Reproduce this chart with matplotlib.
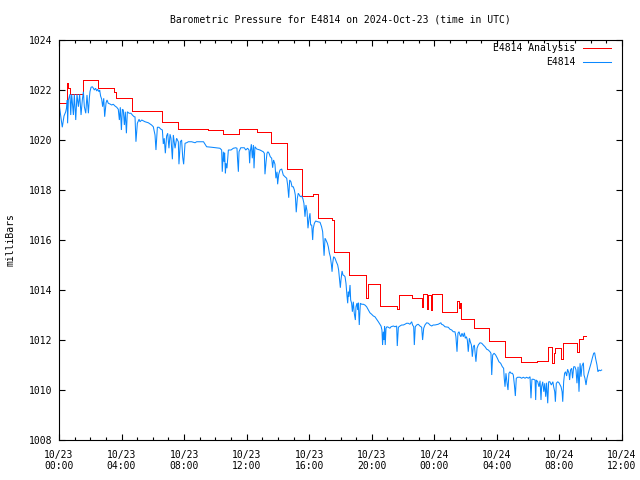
import matplotlib
matplotlib.use("Agg")
import matplotlib.pyplot as plt
from matplotlib.ticker import MultipleLocator, FixedLocator
import numpy as np

# ---- data (time in hours since 2024-10-23 00:00 UTC, pressure in mbar) ----
obs_hours = [
    0.00, 0.21, 0.32, 0.43, 0.49, 0.53, 0.55, 0.60, 0.70, 0.75, 0.81, 0.92, 0.98, 1.07, 1.15, 1.24,
    1.32, 1.41, 1.49, 1.56, 1.62, 1.71, 1.79, 1.88, 1.94, 1.98, 2.05, 2.13, 2.20, 2.26, 2.34, 2.41,
    2.47, 2.56, 2.60, 2.66, 2.73, 2.79, 2.86, 2.92, 3.01, 3.07, 3.15, 3.26, 3.37, 3.47, 3.58, 3.69,
    3.79, 3.86, 3.92, 3.99, 4.05, 4.11, 4.18, 4.24, 4.31, 4.37, 4.48, 4.60, 4.69, 4.80, 4.86, 4.92,
    5.01, 5.12, 5.18, 5.29, 5.50, 5.71, 5.92, 6.03, 6.14, 6.20, 6.29, 6.39, 6.52, 6.61, 6.67, 6.73,
    6.80, 6.88, 6.95, 7.03, 7.10, 7.16, 7.25, 7.31, 7.42, 7.52, 7.63, 7.67, 7.76, 7.84, 7.91, 7.97,
    8.06, 8.16, 8.27, 8.48, 8.70, 8.80, 9.24, 9.44, 9.76, 10.29, 10.40, 10.44, 10.51, 10.55, 10.59,
    10.64, 10.68, 10.74, 10.83, 11.00, 11.15, 11.30, 11.38, 11.42, 11.47, 11.51, 11.62, 11.85, 11.94,
    12.06, 12.15, 12.19, 12.23, 12.30, 12.36, 12.43, 12.47, 12.53, 12.64, 12.85, 13.06, 13.13, 13.17,
    13.24, 13.30, 13.36, 13.43, 13.51, 13.60, 13.66, 13.72, 13.81, 13.87, 13.94, 13.98, 14.05, 14.13,
    14.24, 14.34, 14.45, 14.56, 14.62, 14.69, 14.75, 14.83, 14.90, 14.98, 15.05, 15.11, 15.17, 15.24,
    15.30, 15.37, 15.43, 15.52, 15.60, 15.66, 15.73, 15.79, 15.86, 15.92, 15.99, 16.05, 16.09, 16.16,
    16.22, 16.26, 16.33, 16.41, 16.54, 16.69, 16.79, 16.86, 16.90, 16.95, 17.01, 17.07, 17.16, 17.22,
    17.29, 17.35, 17.42, 17.46, 17.50, 17.56, 17.65, 17.73, 17.82, 17.88, 17.95, 17.99, 18.03, 18.10,
    18.16, 18.24, 18.29, 18.35, 18.41, 18.46, 18.50, 18.54, 18.61, 18.65, 18.71, 18.76, 18.82, 18.88,
    18.95, 18.99, 19.05, 19.10, 19.14, 19.20, 19.27, 19.35, 19.46, 19.56, 19.67, 19.78, 19.88, 19.99,
    20.10, 20.20, 20.31, 20.42, 20.52, 20.59, 20.65, 20.69, 20.74, 20.78, 20.82, 20.86, 20.91, 20.97,
    21.06, 21.16, 21.23, 21.38, 21.48, 21.59, 21.63, 21.70, 21.80, 21.91, 22.02, 22.12, 22.23, 22.33,
    22.44, 22.55, 22.61, 22.68, 22.72, 22.78, 22.87, 22.97, 23.08, 23.19, 23.25, 23.32, 23.40, 23.51,
    23.62, 23.72, 23.83, 23.93, 24.04, 24.25, 24.42, 24.46, 24.57, 24.68, 24.89, 25.00, 25.11, 25.21,
    25.32, 25.38, 25.45, 25.51, 25.58, 25.64, 25.70, 25.77, 25.85, 25.92, 25.98, 26.05, 26.11, 26.17,
    26.24, 26.30, 26.37, 26.43, 26.49, 26.56, 26.66, 26.73, 26.81, 26.92, 27.03, 27.13, 27.24, 27.35,
    27.45, 27.56, 27.62, 27.67, 27.73, 27.82, 27.92, 28.03, 28.13, 28.24, 28.35, 28.43, 28.47, 28.52,
    28.58, 28.64, 28.71, 28.77, 28.84, 28.90, 28.99, 29.05, 29.12, 29.18, 29.24, 29.33, 29.48, 29.58,
    29.69, 29.80, 29.90, 30.01, 30.12, 30.18, 30.24, 30.33, 30.44, 30.48, 30.52, 30.61, 30.69, 30.76,
    30.82, 30.86, 30.93, 31.00, 31.06, 31.12, 31.18, 31.25, 31.31, 31.39, 31.48, 31.58, 31.63, 31.70,
    31.74, 31.80, 31.89, 31.97, 32.04, 32.10, 32.17, 32.21, 32.27, 32.33, 32.39, 32.46, 32.52, 32.61,
    32.65, 32.71, 32.78, 32.84, 32.91, 32.99, 33.06, 33.12, 33.19, 33.25, 33.32, 33.38, 33.44, 33.53,
    33.57, 33.63, 33.70, 33.76, 33.84, 33.93, 34.02, 34.10, 34.19, 34.25, 34.31, 34.40, 34.46, 34.53,
    34.61, 34.70,
]
obs_mbar = [
    1021.47, 1020.51, 1020.96, 1021.13, 1021.31, 1021.60, 1020.67, 1021.60, 1021.83, 1021.00, 1021.83,
    1021.00, 1021.83, 1020.80, 1021.83, 1021.33, 1021.83, 1021.00, 1021.60, 1021.93, 1021.33, 1021.07,
    1021.80, 1021.07, 1021.67, 1021.93, 1022.11, 1022.13, 1022.07, 1022.00, 1022.07, 1021.96, 1022.03,
    1021.93, 1022.00, 1021.76, 1021.63, 1021.33, 1021.67, 1020.93, 1021.49, 1021.60, 1021.47, 1021.44,
    1021.40, 1021.43, 1021.36, 1021.31, 1021.23, 1020.80, 1021.31, 1020.40, 1021.23, 1021.20, 1020.60,
    1021.13, 1020.27, 1021.13, 1021.07, 1021.07, 1021.00, 1020.93, 1020.93, 1019.93, 1020.67, 1020.83,
    1020.73, 1020.80, 1020.73, 1020.69, 1020.60, 1020.53, 1020.20, 1019.60, 1020.51, 1020.51, 1020.43,
    1020.40, 1019.84, 1020.07, 1019.47, 1020.16, 1020.27, 1019.67, 1020.23, 1020.07, 1019.23, 1020.20,
    1019.67, 1020.07, 1019.93, 1019.03, 1019.93, 1020.00, 1019.31, 1019.03, 1019.87, 1019.89, 1019.93,
    1019.93, 1019.89, 1019.93, 1019.93, 1019.73, 1019.71, 1019.67, 1019.60, 1018.73, 1019.53, 1019.13,
    1019.49, 1018.67, 1019.07, 1018.87, 1019.60, 1019.60, 1019.67, 1019.69, 1019.67, 1019.20, 1018.73,
    1019.53, 1019.69, 1019.69, 1019.60, 1019.67, 1019.60, 1019.07, 1019.53, 1019.83, 1019.27, 1019.80,
    1018.87, 1019.73, 1019.64, 1019.60, 1019.53, 1019.47, 1018.63, 1019.13, 1019.47, 1019.53, 1019.47,
    1019.33, 1019.27, 1018.89, 1019.20, 1019.03, 1018.47, 1018.73, 1018.23, 1018.63, 1018.80, 1018.84,
    1018.60, 1018.53, 1018.47, 1018.20, 1017.69, 1018.40, 1018.33, 1018.13, 1018.13, 1018.00, 1017.80,
    1017.11, 1017.67, 1017.87, 1017.80, 1017.73, 1017.76, 1017.64, 1017.47, 1016.93, 1017.40, 1017.16,
    1016.47, 1016.87, 1017.07, 1016.60, 1016.60, 1016.00, 1016.47, 1016.67, 1016.76, 1016.73, 1016.71,
    1016.53, 1016.33, 1015.93, 1015.37, 1016.07, 1016.00, 1015.87, 1015.73, 1015.47, 1015.33, 1015.00,
    1014.73, 1015.07, 1015.33, 1015.27, 1015.13, 1015.00, 1014.80, 1014.33, 1014.09, 1014.40, 1014.76,
    1014.60, 1014.57, 1014.53, 1014.27, 1013.80, 1013.47, 1013.93, 1013.73, 1014.20, 1013.60, 1013.47,
    1013.13, 1013.53, 1013.07, 1012.80, 1013.33, 1013.47, 1013.20, 1013.49, 1012.60, 1013.47, 1013.43,
    1013.43, 1013.40, 1013.33, 1013.20, 1013.09, 1013.03, 1012.96, 1012.93, 1012.83, 1012.73, 1012.63,
    1012.56, 1012.40, 1011.80, 1012.33, 1012.00, 1012.56, 1011.80, 1012.47, 1012.53, 1012.51, 1012.47,
    1012.53, 1012.56, 1012.53, 1012.56, 1011.76, 1012.51, 1012.56, 1012.60, 1012.60, 1012.63, 1012.67,
    1012.67, 1012.63, 1012.73, 1012.60, 1012.53, 1011.80, 1012.53, 1012.60, 1012.63, 1012.56, 1012.51,
    1012.00, 1012.47, 1012.60, 1012.69, 1012.67, 1012.60, 1012.56, 1012.60, 1012.60, 1012.63, 1012.69,
    1012.63, 1012.60, 1012.53, 1012.51, 1012.43, 1012.40, 1012.33, 1012.33, 1012.13, 1011.53, 1012.27,
    1012.33, 1012.20, 1012.13, 1012.27, 1012.13, 1012.29, 1012.07, 1012.13, 1012.00, 1011.53, 1012.07,
    1011.93, 1011.80, 1011.33, 1011.73, 1011.80, 1011.13, 1011.67, 1011.80, 1011.89, 1011.87, 1011.80,
    1011.73, 1011.63, 1011.60, 1011.53, 1011.47, 1010.60, 1011.40, 1011.47, 1011.40, 1011.27, 1011.13,
    1011.07, 1010.93, 1010.87, 1010.47, 1010.13, 1010.67, 1010.33, 1010.00, 1010.67, 1010.73, 1010.67,
    1010.67, 1010.60, 1010.20, 1009.76, 1010.47, 1010.51, 1010.51, 1010.47, 1010.51, 1010.47, 1010.51,
    1010.47, 1010.53, 1009.67, 1010.43, 1010.43, 1010.40, 1009.60, 1010.40, 1010.33, 1010.13, 1010.37,
    1009.60, 1010.13, 1010.33, 1009.93, 1010.27, 1009.73, 1010.29, 1009.47, 1010.33, 1010.33, 1010.20,
    1010.33, 1010.13, 1009.93, 1009.53, 1010.27, 1010.33, 1010.29, 1010.20, 1010.13, 1009.93, 1009.53,
    1010.33, 1010.67, 1010.73, 1010.56, 1010.83, 1010.67, 1010.40, 1010.80, 1010.87, 1010.47, 1010.93,
    1010.93, 1010.80, 1010.27, 1010.93, 1009.93, 1011.07, 1010.53, 1010.96, 1011.09, 1010.60, 1010.47,
    1010.20, 1010.47, 1010.67, 1010.87, 1011.07, 1011.27, 1011.47, 1011.49, 1011.27, 1011.00, 1010.73,
    1010.80, 1010.77, 1010.80,
]

ana_hours = [
    0.00, 0.53, 0.58, 0.70, 1.56, 2.51, 3.54, 3.64, 4.65, 6.56, 7.59, 9.50, 10.51, 11.53, 12.64,
    13.56, 14.56, 15.56, 16.26, 16.54, 17.48, 17.56, 18.55, 19.60, 19.74, 20.52, 21.62, 21.72,
    22.59, 23.23, 23.30, 23.50, 23.58, 23.76, 23.85, 24.50, 25.48, 25.56, 25.61, 25.68, 26.55,
    27.51, 28.52, 29.57, 30.57, 31.25, 31.55, 31.62, 31.72, 32.12, 32.22, 33.12, 33.22, 33.52, 33.68,
]
ana_mbar = [
    1021.47, 1022.27, 1022.07, 1021.83, 1022.39, 1022.07, 1021.93, 1021.67, 1021.16, 1020.73,
    1020.43, 1020.40, 1020.24, 1020.43, 1020.33, 1019.89, 1018.85, 1017.76, 1017.83, 1016.87,
    1016.80, 1015.51, 1014.60, 1013.67, 1014.23, 1013.37, 1013.24, 1013.80, 1013.67, 1013.33,
    1013.83, 1013.23, 1013.80, 1013.20, 1013.83, 1013.11, 1013.56, 1013.29, 1013.47, 1012.84,
    1012.47, 1011.96, 1011.33, 1011.12, 1011.16, 1011.71, 1011.09, 1011.47, 1011.67, 1011.23,
    1011.87, 1011.53, 1012.03, 1012.16, 1012.16,
]

x_tick_hours = [0, 4, 8, 12, 16, 20, 24, 28, 32, 36]
x_tick_labels = ["10/23\n00:00", "10/23\n04:00", "10/23\n08:00", "10/23\n12:00", "10/23\n16:00",
                 "10/23\n20:00", "10/24\n00:00", "10/24\n04:00", "10/24\n08:00", "10/24\n12:00"]
series_names = ["E4814 Analysis", "E4814"]
title = "Barometric Pressure for E4814 on 2024-Oct-23 (time in UTC)"

# ---- plot ----
plt.rcParams['font.family'] = ['DejaVu Sans Mono']
plt.rcParams['font.size'] = 7

fig = plt.figure(figsize=(6.4, 4.8), dpi=100)
W, H = 640, 480
L, R, T, B = 59, 622, 40, 440
ax = fig.add_axes([L / W, 1 - B / H, (R - L) / W, (B - T) / H])

ax.plot(ana_hours, ana_mbar, drawstyle='steps-post', color='#ff0000', lw=0.72,
        label=series_names[0], antialiased=False)
ax.plot(obs_hours, obs_mbar, color='#0a88ff', lw=0.75, label=series_names[1],
        solid_joinstyle='miter')

ax.set_xlim(0, 36)
ax.set_ylim(1008, 1024)
ax.xaxis.set_major_locator(FixedLocator(x_tick_hours))
ax.set_xticklabels(x_tick_labels, linespacing=1.15)
ax.xaxis.set_minor_locator(MultipleLocator(1))
ax.yaxis.set_major_locator(MultipleLocator(2))
ax.tick_params(which='both', direction='in', top=True, right=True, width=0.8)
ax.tick_params(which='major', length=4.5)
ax.tick_params(which='minor', length=2.2)
ax.tick_params(axis='x', which='major', pad=7)
ax.tick_params(axis='y', which='major', pad=5)
for s in ax.spines.values():
    s.set_linewidth(0.8)

fig.text((L + R) / 2 / W, 1 - 20 / H, title, ha='center', va='center')
fig.text(11 / W, 1 - 240 / H, "milliBars", rotation=90, ha='center', va='center')

ax.legend(loc='upper right', bbox_to_anchor=(1 - 11 / (R - L), 1 - 3 / (B - T)),
          frameon=False, markerfirst=False, handlelength=2.9, handletextpad=0.8,
          labelspacing=0.45, borderpad=0, borderaxespad=0)

fig.savefig("out.png", dpi=100)
